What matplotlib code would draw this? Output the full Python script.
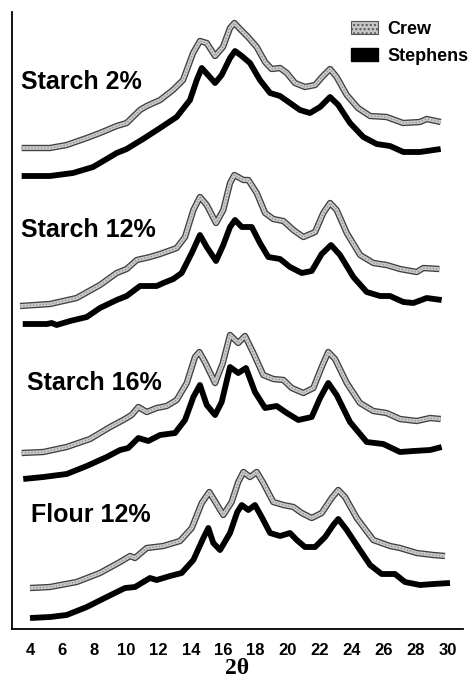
import matplotlib
matplotlib.use("Agg")
import matplotlib.pyplot as plt
from matplotlib.patches import Patch

# X-ray diffraction traces (arbitrary intensity units, stacked)
panel_labels = ["Starch 2%", "Starch 12%", "Starch 16%", "Flour 12%"]
label_pos = [(3.42, 540), (3.43, 392), (3.81, 239), (4.06, 107)]

crew_2_x = [3.48, 5.24, 6.28, 7.53, 8.35, 9.39, 10.01, 10.84, 11.26, 12.09, 12.89, 13.52, 14.14, 14.57,
            14.99, 15.51, 16.00, 16.44, 16.71, 17.06, 17.56, 18.10, 18.62, 19.03, 19.55, 19.97, 20.48,
            21.10, 21.73, 22.22, 22.66, 23.07, 23.70, 24.40, 25.15, 26.18, 27.20, 28.25, 28.67, 29.54]
crew_2_y = [481, 481, 484, 491, 496, 503, 506, 519, 523, 529, 539, 549, 576, 588,
            586, 573, 582, 601, 606, 600, 592, 582, 567, 560, 561, 556, 546,
            542, 544, 553, 560, 552, 534, 521, 513, 512, 506, 507, 510, 507]
steph_2_x = [3.48, 5.24, 6.67, 7.92, 8.77, 9.39, 10.01, 11.03, 12.09, 13.12, 13.95, 14.37, 14.68, 15.07,
             15.51, 15.92, 16.44, 16.75, 17.17, 17.68, 18.30, 18.93, 19.55, 20.17, 20.79, 21.41, 22.04,
             22.66, 23.17, 23.90, 24.73, 25.56, 26.39, 27.22, 28.25, 29.54]
steph_2_y = [453, 453, 456, 462, 470, 476, 480, 490, 501, 512, 529, 549, 561, 554,
             546, 554, 571, 578, 573, 566, 549, 536, 533, 526, 519, 516, 522,
             532, 524, 506, 492, 485, 483, 477, 477, 480]

crew_12_x = [3.38, 5.24, 6.90, 8.35, 9.39, 10.01, 10.64, 11.46, 12.09, 13.12, 13.64, 14.16, 14.57, 14.99,
             15.57, 16.02, 16.44, 16.71, 17.27, 17.58, 18.10, 18.62, 19.13, 19.76, 20.38, 21.00, 21.73,
             22.24, 22.66, 23.07, 23.70, 24.53, 25.35, 26.18, 27.01, 28.05, 28.46, 29.46]
crew_12_y = [323, 325, 331, 344, 356, 360, 369, 372, 375, 381, 392, 419, 432, 424,
             406, 419, 446, 454, 449, 449, 436, 416, 410, 408, 399, 392, 397,
             416, 426, 419, 396, 374, 366, 364, 360, 357, 361, 360]
steph_12_x = [3.55, 5.04, 5.35, 5.66, 6.49, 7.53, 8.35, 9.39, 10.01, 10.84, 11.88, 12.29, 12.91, 13.43,
              14.06, 14.57, 14.99, 15.57, 16.02, 16.44, 16.75, 17.17, 17.79, 18.30, 18.82, 19.55, 20.17,
              20.90, 21.52, 22.14, 22.72, 23.28, 24.11, 24.94, 25.77, 26.39, 27.22, 27.84, 28.67, 29.60]
steph_12_y = [305, 305, 306, 304, 308, 312, 321, 329, 333, 343, 343, 346, 350, 356,
              376, 394, 382, 368, 384, 402, 409, 402, 402, 386, 372, 370, 362,
              356, 358, 375, 384, 374, 352, 337, 333, 333, 327, 326, 331, 329]

crew_16_x = [3.48, 4.83, 6.28, 7.73, 8.98, 9.80, 10.32, 10.74, 11.26, 11.88, 12.50, 13.12, 13.75, 14.26,
             14.53, 14.88, 15.51, 15.99, 16.44, 16.95, 17.37, 17.89, 18.51, 19.13, 19.76, 20.28, 21.00,
             21.62, 22.14, 22.55, 22.97, 23.70, 24.52, 25.35, 26.18, 27.01, 28.05, 28.88, 29.54]
crew_16_y = [176, 177, 182, 190, 202, 209, 214, 222, 217, 221, 223, 229, 246, 272,
             277, 267, 246, 266, 294, 286, 293, 276, 254, 250, 249, 241, 236,
             241, 262, 277, 270, 246, 226, 218, 216, 210, 208, 211, 210]
steph_16_x = [3.58, 4.83, 6.28, 7.53, 8.77, 9.60, 10.11, 10.74, 11.36, 12.09, 13.02, 13.64, 14.16, 14.57,
              14.99, 15.51, 15.92, 16.44, 16.95, 17.43, 17.99, 18.62, 19.34, 19.97, 20.69, 21.52, 22.04,
              22.55, 23.07, 23.90, 24.94, 25.97, 27.01, 27.84, 28.88, 29.60]
steph_16_y = [150, 152, 155, 163, 172, 179, 181, 191, 188, 194, 196, 209, 232, 244,
              224, 214, 227, 262, 256, 261, 237, 221, 223, 216, 209, 212, 231,
              246, 234, 207, 187, 185, 177, 178, 179, 182]

crew_fl_x = [4.00, 5.24, 6.90, 8.35, 9.60, 10.22, 10.53, 11.26, 12.29, 13.33, 14.06, 14.68, 15.15, 15.57,
             16.02, 16.54, 16.95, 17.27, 17.68, 18.10, 18.51, 19.13, 19.76, 20.38, 20.90, 21.52, 22.14,
             22.76, 23.17, 23.59, 24.32, 25.35, 26.39, 27.01, 28.05, 29.08, 29.81]
crew_fl_y = [41, 42, 47, 56, 67, 73, 71, 81, 83, 88, 101, 126, 137, 126,
             114, 127, 147, 157, 152, 157, 146, 127, 124, 122, 116, 111, 116,
             131, 139, 132, 111, 89, 83, 81, 76, 74, 73]
steph_fl_x = [4.00, 5.24, 6.28, 7.53, 8.77, 9.91, 10.53, 11.46, 11.88, 12.71, 13.43, 14.16, 14.78, 15.09,
              15.40, 15.82, 16.44, 16.89, 17.17, 17.58, 17.99, 18.41, 18.93, 19.55, 20.17, 20.59, 21.10,
              21.73, 22.35, 22.86, 23.17, 23.70, 24.52, 25.15, 25.87, 26.70, 27.32, 28.25, 29.08, 30.12]
steph_fl_y = [11, 12, 14, 22, 32, 41, 42, 51, 49, 53, 56, 69, 91, 101,
              86, 79, 96, 117, 124, 119, 124, 112, 96, 93, 96, 89, 82,
              82, 92, 104, 110, 99, 79, 64, 55, 55, 47, 44, 45, 46]

crew_traces = [(crew_2_x, crew_2_y), (crew_12_x, crew_12_y), (crew_16_x, crew_16_y), (crew_fl_x, crew_fl_y)]
steph_traces = [(steph_2_x, steph_2_y), (steph_12_x, steph_12_y), (steph_16_x, steph_16_y), (steph_fl_x, steph_fl_y)]
tick_vals = list(range(4, 31, 2))

fig = plt.figure(figsize=(4.72, 6.82), dpi=100)
ax = fig.add_axes([0.0254, 0.0777, 0.9556, 0.9047])

line_kw = dict(solid_joinstyle="round", solid_capstyle="butt")
for x, y in crew_traces:
    # stippled grey band: dark rim, light fill, fine dot texture
    ax.plot(x, y, color="#404040", lw=4.6, **line_kw)
    ax.plot(x, y, color="#cacaca", lw=2.7, **line_kw)
    ax.plot(x, y, color="#8a8a8a", lw=0.9, linestyle=(0, (1, 1.6)))
for x, y in steph_traces:
    ax.plot(x, y, color="black", lw=4.2, **line_kw)

for lbl, (tx, ty) in zip(panel_labels, label_pos):
    ax.text(tx, ty, lbl, fontsize=18, fontweight="bold", family="Liberation Sans", va="baseline")

ax.set_xlim(2.88, 30.93)
ax.set_ylim(0, 617)
ax.set_xticks(tick_vals)
ax.set_xticklabels([str(t) for t in tick_vals], fontsize=12, fontweight="bold", family="Liberation Sans")
ax.tick_params(axis="x", length=0, pad=10)
ax.set_yticks([])
ax.set_xlabel("2\u03b8", fontsize=17, fontweight="bold", family="Liberation Serif", labelpad=0)
for s in ["top", "right"]:
    ax.spines[s].set_visible(False)
for s in ["left", "bottom"]:
    ax.spines[s].set_linewidth(1.3)

handles = [Patch(facecolor="#c6c6c6", edgecolor="#555555", hatch="....", lw=0.8, label="Crew"),
           Patch(facecolor="black", edgecolor="black", label="Stephens")]
fig.legend(handles=handles, loc="upper left", bbox_to_anchor=(351 / 472, 1 - 21 / 682),
           frameon=False, borderpad=0, borderaxespad=0, handlelength=1.5, handleheight=0.7,
           handletextpad=0.5, labelspacing=0.55,
           prop={"family": "Liberation Sans", "weight": "bold", "size": 13})

fig.savefig("out.png", dpi=100)
